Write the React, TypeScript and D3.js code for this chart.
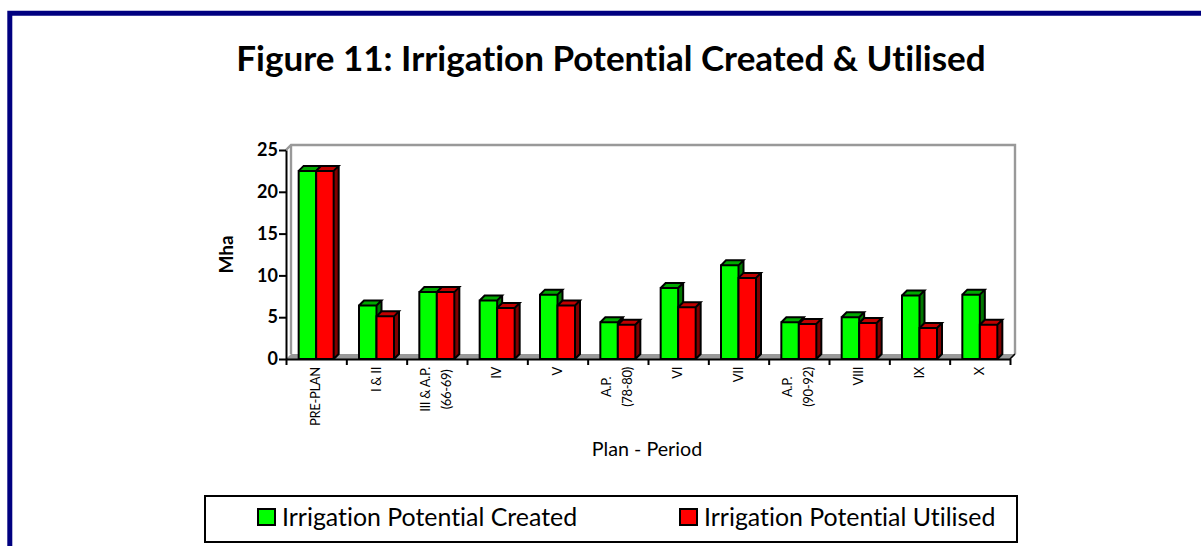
import React, { useEffect, useRef } from "react";
import * as d3 from "d3";

const categories = [
  ["PRE-PLAN"],
  ["I & II"],
  ["III & A.P.", "(66-69)"],
  ["IV"],
  ["V"],
  ["A.P.", "(78-80)"],
  ["VI"],
  ["VII"],
  ["A.P.", "(90-92)"],
  ["VIII"],
  ["IX"],
  ["X"],
];
const created = [22.5, 6.4, 8, 7, 7.7, 4.4, 8.5, 11.2, 4.4, 5, 7.6, 7.7];
const utilised = [22.5, 5.1, 8, 6.1, 6.4, 4.1, 6.2, 9.7, 4.2, 4.3, 3.7, 4.1];
const yTicks = [0, 5, 10, 15, 20, 25];
const seriesNames = ["Irrigation Potential Created", "Irrigation Potential Utilised"];

const FONT = "Lato, 'Noto Sans', sans-serif";
const DEPTH = 5;

// front face and the two sheared faces, like an Excel 3-D column
function drawBar(g, x, y, w, h, front, top, side) {
  const d = DEPTH;
  g.append("path")
    .attr("d", `M${x},${y}l${d},${-d}h${w}l${-d},${d}z`)
    .attr("fill", top);
  g.append("path")
    .attr("d", `M${x + w},${y}l${d},${-d}v${h}l${-d},${d}z`)
    .attr("fill", side);
  g.append("rect")
    .attr("x", x)
    .attr("y", y)
    .attr("width", w)
    .attr("height", h)
    .attr("fill", front);
  g.append("path")
    .attr(
      "d",
      `M${x},${y}h${w}v${h}h${-w}zM${x},${y}l${d},${-d}h${w}l${-d},${d}M${x + w + d},${y - d}v${h}l${-d},${d}`
    )
    .attr("fill", "none")
    .attr("stroke", "#000")
    .attr("stroke-width", 2);
}

export default function App() {
  const ref = useRef<SVGSVGElement>(null);

  useEffect(() => {
    const svg = d3.select(ref.current);
    svg.selectAll("*").remove();
    svg.style("font-variant-ligatures", "none");

    // page frame: only left and top show in the crop
    svg
      .append("path")
      .attr("d", "M9.8,546V13.2H1201")
      .attr("fill", "none")
      .attr("stroke", "#000080")
      .attr("stroke-width", 5);

    svg
      .append("text")
      .attr("x", 611)
      .attr("y", 70.5)
      .attr("text-anchor", "middle")
      .attr("font-family", FONT)
      .attr("font-weight", 700)
      .attr("font-size", 35)
      .attr("fill", "#000")
      .text("Figure 11: Irrigation Potential Created & Utilised");

    const x0 = 286;
    const x1 = 1010;
    const y = d3.scaleLinear().domain([0, 25]).range([359, 150]);
    const band = d3
      .scaleBand<number>()
      .domain(d3.range(categories.length))
      .range([x0, x1]);
    const barW = 17.5;

    const chart = svg.append("g");

    // back wall and floor
    chart
      .append("path")
      .attr(
        "d",
        `M${x0},${y(25)}l${DEPTH},${-DEPTH}H${x1 + DEPTH}V${y(0) - DEPTH}`
      )
      .attr("fill", "none")
      .attr("stroke", "#999")
      .attr("stroke-width", 2.4);
    chart
      .append("path")
      .attr("d", `M${x0 + DEPTH},${y(25) - DEPTH}V${y(0) - DEPTH}`)
      .attr("stroke", "#999")
      .attr("stroke-width", 2.4);
    chart
      .append("path")
      .attr(
        "d",
        `M${x0},${y(0)}l${DEPTH},${-DEPTH}H${x1 + DEPTH}l${-DEPTH},${DEPTH}z`
      )
      .attr("fill", "#999");

    categories.forEach((_, i) => {
      const cx = band(i) + band.bandwidth() / 2;
      const g = chart.append("g");
      drawBar(g, cx - barW, y(created[i]), barW, y(0) - y(created[i]), "#00ff00", "#00a800", "#007800");
      drawBar(g, cx, y(utilised[i]), barW, y(0) - y(utilised[i]), "#ff0000", "#c00000", "#800000");
    });

    // axes on top of the bars
    const yAxis = d3.axisLeft(y).tickValues(yTicks).tickSize(7).tickSizeOuter(0);
    const ya = chart.append("g").attr("transform", `translate(${x0},0)`).call(yAxis);
    ya.selectAll("path, line").attr("stroke", "#000").attr("stroke-width", 2);
    ya.selectAll("text")
      .attr("font-family", FONT)
      .attr("font-weight", 700)
      .attr("font-size", 18)
      .attr("fill", "#000")
      .attr("x", -8);

    const xAxis = d3
      .axisBottom(d3.scaleLinear().domain([0, categories.length]).range([x0, x1]))
      .tickValues(d3.range(categories.length + 1))
      .tickFormat(() => "")
      .tickSize(6)
      .tickSizeOuter(0);
    const xa = chart.append("g").attr("transform", `translate(0,${y(0)})`).call(xAxis);
    xa.selectAll("path, line").attr("stroke", "#000").attr("stroke-width", 2);

    chart
      .append("path")
      .attr("d", `M${x1},${y(0)}l${DEPTH},${-DEPTH}`)
      .attr("stroke", "#000")
      .attr("stroke-width", 1.6);

    // rotated category labels: block hangs from y=367, lines centred in it
    categories.forEach((lines, i) => {
      const cx = band(i) + band.bandwidth() / 2;
      const n = lines.length;
      const texts = lines.map((line) =>
        chart
          .append("text")
          .attr("font-family", FONT)
          .attr("font-size", 13)
          .attr("letter-spacing", -0.3)
          .attr("fill", "#000")
          .attr("text-anchor", "middle")
          .text(line)
      );
      const longest = d3.max(texts, (t) => t.node().getComputedTextLength());
      texts.forEach((t, k) => {
        const lx = cx + (k - (n - 1) / 2) * 21 + 4;
        t.attr("transform", `translate(${lx},${367 + longest / 2}) rotate(-90)`);
      });
    });

    svg
      .append("text")
      .attr("transform", "translate(233,254.5) rotate(-90)")
      .attr("text-anchor", "middle")
      .attr("font-family", FONT)
      .attr("font-weight", 700)
      .attr("font-size", 19)
      .attr("fill", "#000")
      .text("Mha");

    svg
      .append("text")
      .attr("x", 647)
      .attr("y", 456)
      .attr("text-anchor", "middle")
      .attr("font-family", FONT)
      .attr("font-size", 19.7)
      .attr("fill", "#000")
      .text("Plan - Period");

    // legend
    svg
      .append("rect")
      .attr("x", 205)
      .attr("y", 496)
      .attr("width", 812)
      .attr("height", 46)
      .attr("fill", "#fff")
      .attr("stroke", "#000")
      .attr("stroke-width", 2);
    const legendX = [258, 680];
    const legendFill = ["#00ff00", "#ff0000"];
    seriesNames.forEach((name, i) => {
      svg
        .append("rect")
        .attr("x", legendX[i])
        .attr("y", 509)
        .attr("width", 17)
        .attr("height", 16)
        .attr("fill", legendFill[i])
        .attr("stroke", "#000")
        .attr("stroke-width", 2);
      svg
        .append("text")
        .attr("x", legendX[i] + 24)
        .attr("y", 526)
        .attr("font-family", FONT)
        .attr("font-size", 24.9)
        .attr("fill", "#000")
        .text(name);
    });
  }, []);

  return (
    <svg
      ref={ref}
      width={1201}
      height={546}
      style={{ position: "absolute", left: 0, top: 0, background: "#fff" }}
    />
  );
}
